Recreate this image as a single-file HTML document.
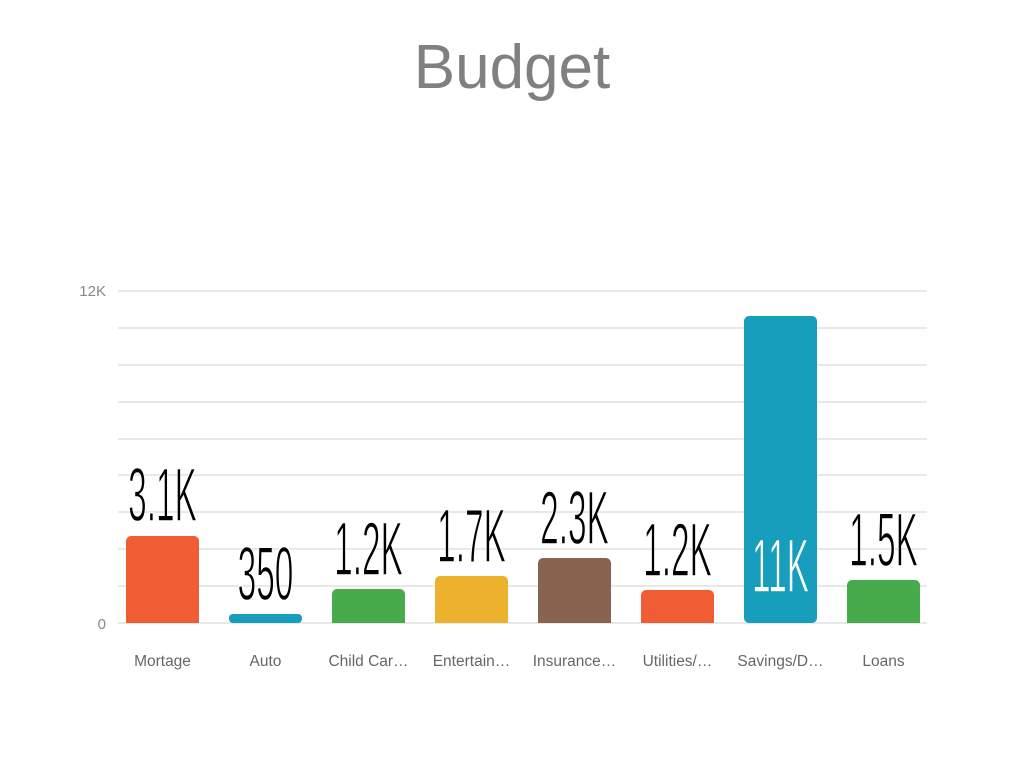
<!DOCTYPE html>
<html><head><style>body{margin:0;background:#fff}</style></head><body>
<svg width="1024" height="768" xmlns="http://www.w3.org/2000/svg" font-family="Liberation Sans, sans-serif">
<text x="512" y="88" text-anchor="middle" font-size="62" fill="#808080">Budget</text>
<g stroke="#d9d9d9" stroke-width="1.3">
<line x1="118" x2="927" y1="291" y2="291"/><line x1="118" x2="927" y1="328" y2="328"/><line x1="118" x2="927" y1="365" y2="365"/><line x1="118" x2="927" y1="402" y2="402"/><line x1="118" x2="927" y1="439" y2="439"/><line x1="118" x2="927" y1="475" y2="475"/><line x1="118" x2="927" y1="512" y2="512"/><line x1="118" x2="927" y1="549" y2="549"/><line x1="118" x2="927" y1="586" y2="586"/><line x1="118" x2="927" y1="623" y2="623"/>
</g>
<text x="106" y="296" text-anchor="end" font-size="15" fill="#888">12K</text>
<text x="106" y="629" text-anchor="end" font-size="15" fill="#888">0</text>
<g>
<rect x="126" y="536" width="73" height="87" rx="5" fill="#f05d34"/><rect x="126" y="600" width="73" height="23" fill="#f05d34"/>
<rect x="229" y="614" width="73" height="9" rx="4" fill="#169ebc"/>
<rect x="332" y="589" width="73" height="34" rx="5" fill="#47ab4b"/><rect x="332" y="600" width="73" height="23" fill="#47ab4b"/>
<rect x="435" y="576" width="73" height="47" rx="5" fill="#ecb22e"/><rect x="435" y="600" width="73" height="23" fill="#ecb22e"/>
<rect x="538" y="558" width="73" height="65" rx="5" fill="#8a6350"/><rect x="538" y="600" width="73" height="23" fill="#8a6350"/>
<rect x="641" y="590" width="73" height="33" rx="5" fill="#f05d34"/><rect x="641" y="600" width="73" height="23" fill="#f05d34"/>
<rect x="744" y="316" width="73" height="307" rx="5" fill="#169ebc"/>
<rect x="847" y="580" width="73" height="43" rx="5" fill="#47ab4b"/><rect x="847" y="600" width="73" height="23" fill="#47ab4b"/>
</g>
<g font-size="76" text-anchor="middle" stroke="#fff" stroke-width="1.4">
<text transform="translate(162.5,521) scale(0.44,1)">3.1K</text>
<text transform="translate(265.5,600) scale(0.44,1)">350</text>
<text transform="translate(368.5,575) scale(0.44,1)">1.2K</text>
<text transform="translate(471.5,562) scale(0.44,1)">1.7K</text>
<text transform="translate(574.5,544) scale(0.44,1)">2.3K</text>
<text transform="translate(677.5,576) scale(0.44,1)">1.2K</text>
<text transform="translate(883.5,566) scale(0.44,1)">1.5K</text>
<text transform="translate(780.5,592) scale(0.44,1)" fill="#fff" stroke="#169ebc">11K</text>
</g>
<g font-size="15.5" fill="#666" text-anchor="middle">
<text x="162.5" y="666">Mortage</text><text x="265.5" y="666">Auto</text><text x="368.5" y="666">Child Car…</text><text x="471.5" y="666">Entertain…</text><text x="574.5" y="666">Insurance…</text><text x="677.5" y="666">Utilities/…</text><text x="780.5" y="666">Savings/D…</text><text x="883.5" y="666">Loans</text>
</g>
</svg>
</body></html>
